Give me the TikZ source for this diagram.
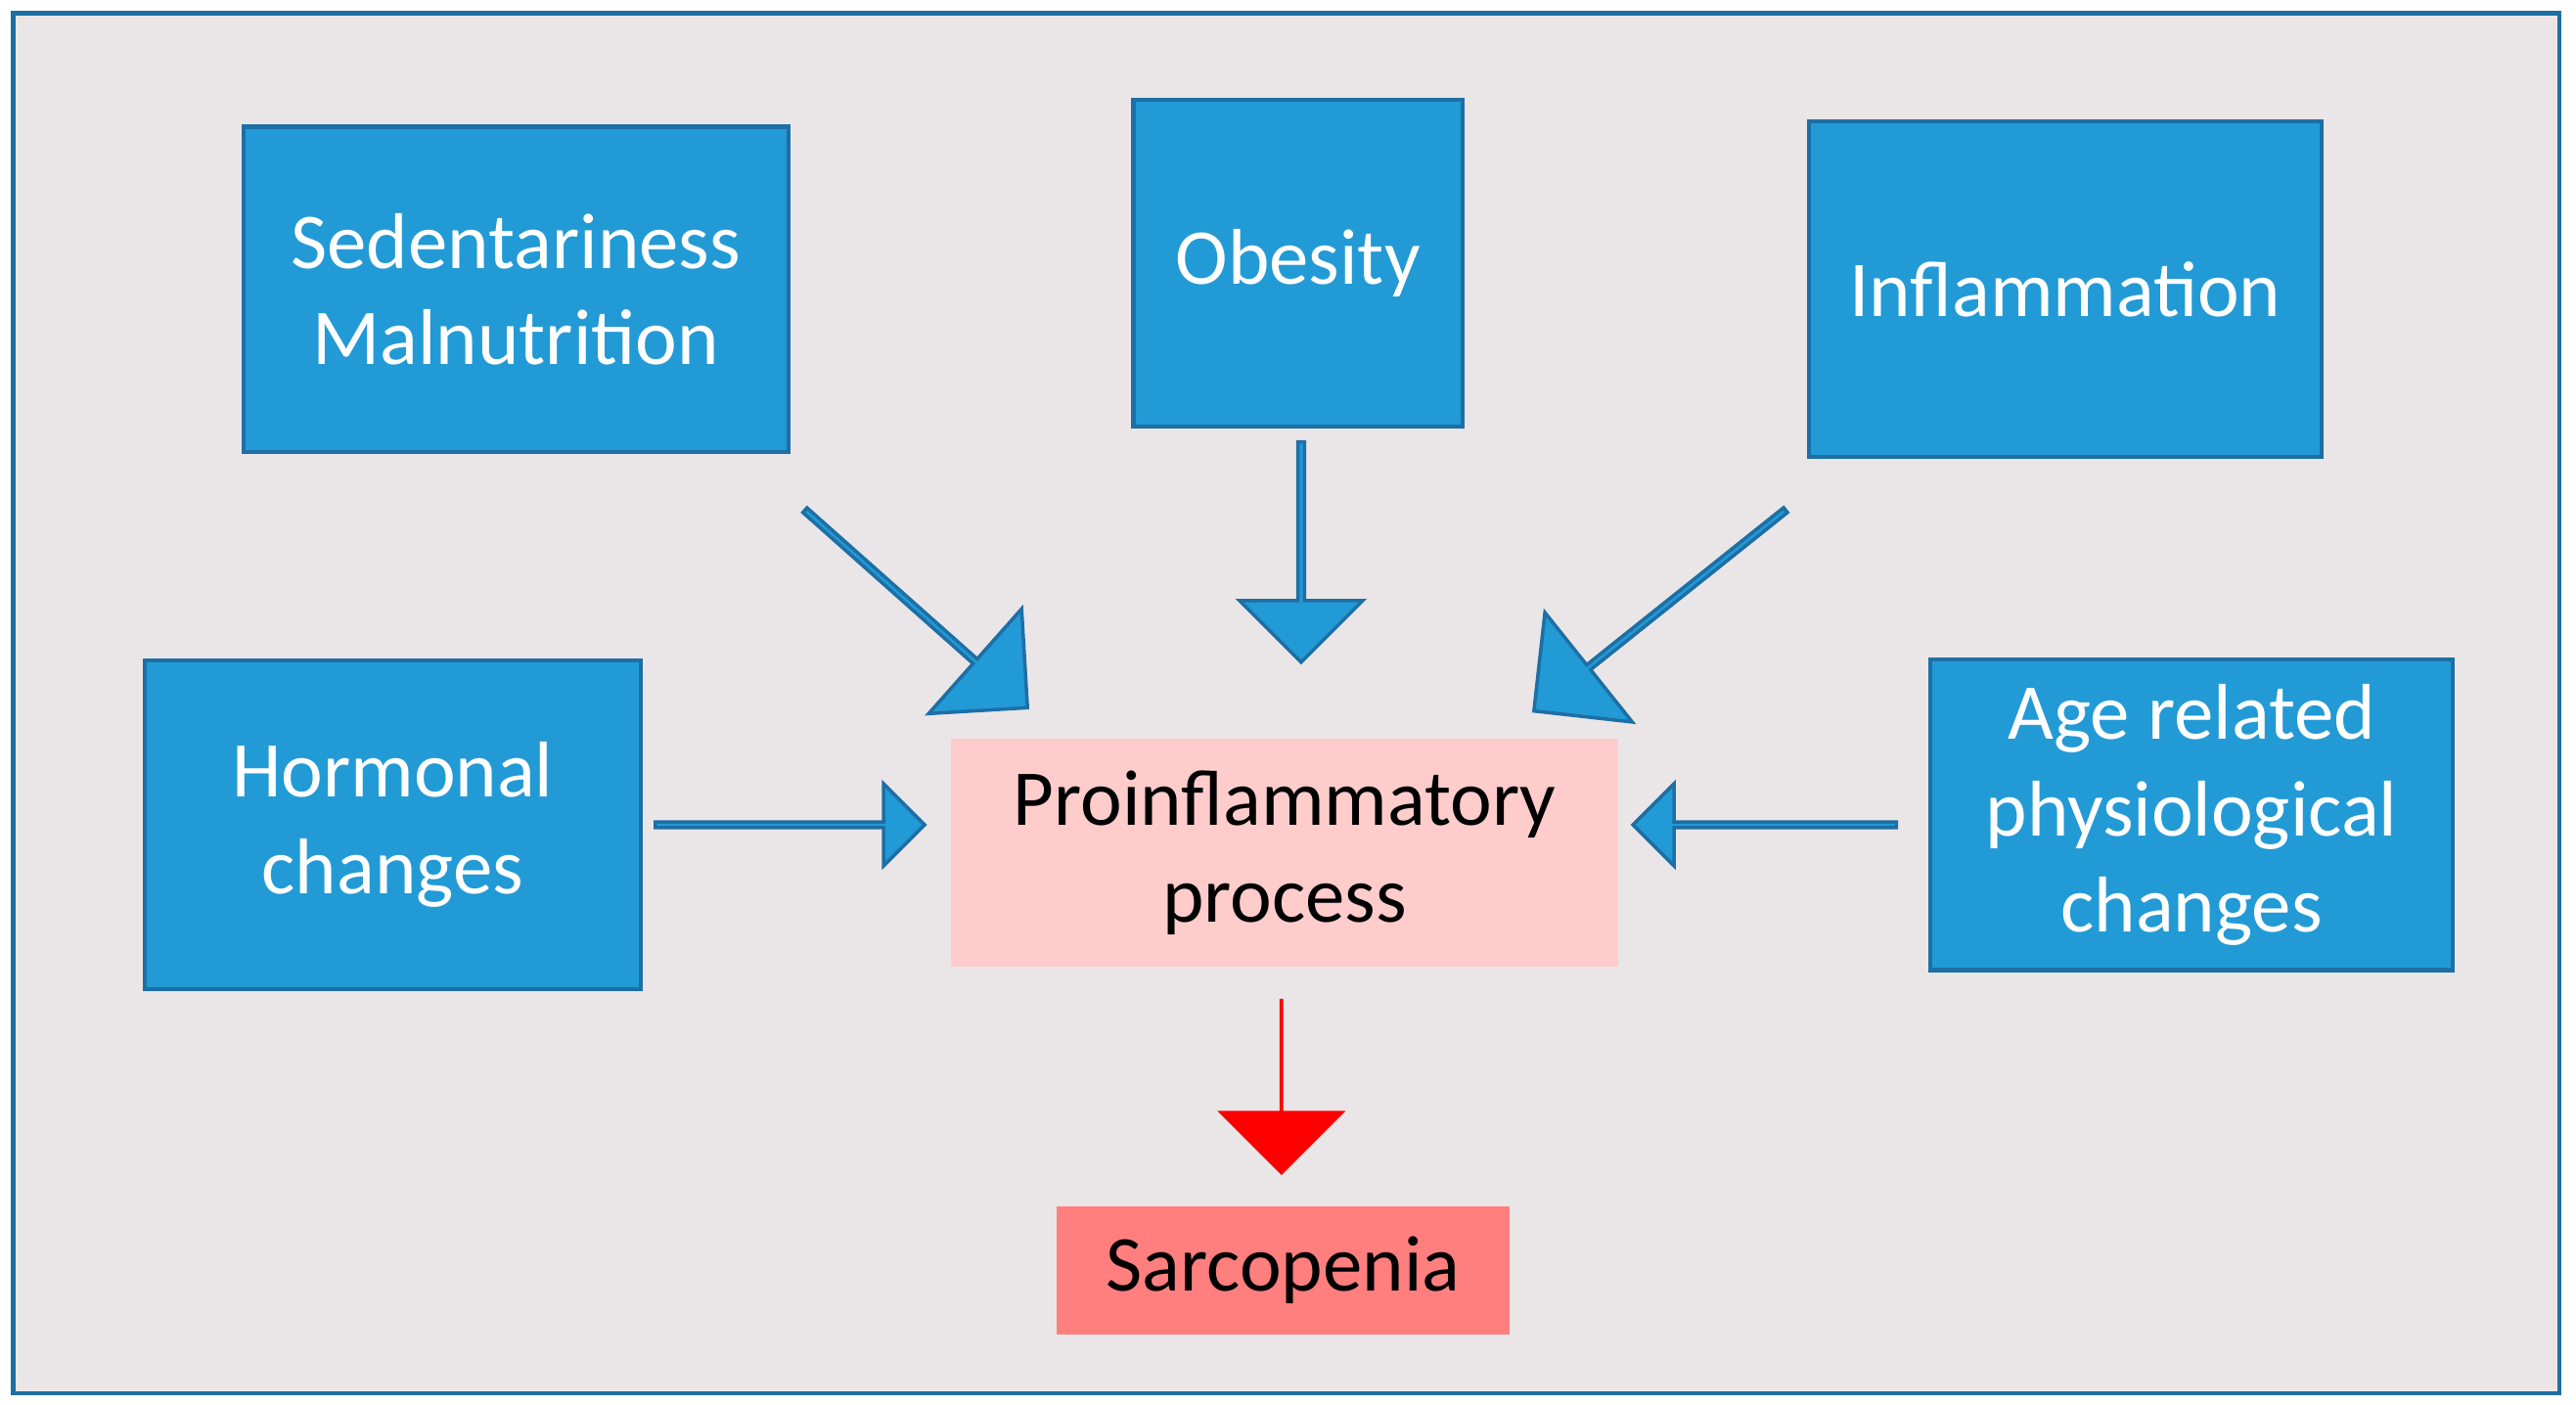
\documentclass[tikz,border=0pt]{standalone}
\usepackage{fontspec}
\setmainfont{Carlito}
\usetikzlibrary{shapes.arrows}
\definecolor{boxblue}{HTML}{229AD6}
\definecolor{edgeblue}{HTML}{1D6FA5}
\definecolor{backgray}{HTML}{EAE6E7}
\definecolor{pinkbox}{HTML}{FFCCCC}
\definecolor{sarcred}{HTML}{FF7F7F}

\begin{document}
\begin{tikzpicture}[x=0.01679cm,y=-0.01679cm]
    \tikzstyle{cause}=[rectangle,draw=edgeblue,line width=1.2pt,fill=boxblue,text=white,align=center,font=\fontsize{23}{28}\selectfont]
    \tikzstyle{result}=[rectangle,align=center,font=\fontsize{23}{28}\selectfont]
    \tikzstyle{bigarrow}=[single arrow,draw=edgeblue,line width=1pt,fill=boxblue,inner sep=0pt,single arrow tip angle=90]
    % frame
    \useasboundingbox (0,0) rectangle (1568,855);
    \draw [draw=edgeblue,line width=1.2pt,fill=backgray] (8,8) rectangle (1558,848);
    % causes
    \node (sed) at (314,176) [cause,minimum width=5.57cm,minimum height=3.32cm] {Sedentariness\\Malnutrition};
    \node (obe) at (790,160) [cause,minimum width=3.36cm,minimum height=3.34cm] {Obesity};
    \node (inf) at (1257,176) [cause,minimum width=5.24cm,minimum height=3.43cm] {Inflammation};
    \node (hor) at (239,502) [cause,minimum width=5.07cm,minimum height=3.36cm] {Hormonal\\changes};
    \node (age) at (1334,496) [cause,minimum width=5.34cm,minimum height=3.17cm] {Age related\\physiological\\changes};
    % centre and outcome
    \node (pro) at (782,519) [result,fill=pinkbox,minimum width=6.82cm,minimum height=2.33cm] {Proinflammatory\\process};
    \node (sarc) at (781,773) [result,fill=sarcred,minimum width=4.62cm,minimum height=1.31cm] {Sarcopenia};
    % block arrows
    \node (sedarrow) at (557,370) [bigarrow,rotate=-41.6,minimum height=3.04cm,minimum width=1.43cm,single arrow head extend=0.38cm] {};
    \node (obearrow) at (792,335) [bigarrow,rotate=-90,minimum height=2.25cm,minimum width=1.26cm,single arrow head extend=0.31cm] {};
    \node (infarrow) at (1011,371) [bigarrow,rotate=218.6,minimum height=3.29cm,minimum width=1.43cm,single arrow head extend=0.38cm] {};
    \node (horarrow) at (480,502) [bigarrow,minimum height=2.75cm,minimum width=0.84cm,single arrow head extend=0.235cm] {};
    \node (agearrow) at (1075,502) [bigarrow,rotate=180,minimum height=2.69cm,minimum width=0.84cm,single arrow head extend=0.235cm] {};
    \node (sarcarrow) at (780,661) [single arrow,fill=red,inner sep=0pt,single arrow tip angle=90,rotate=-90,minimum height=1.8cm,minimum width=1.31cm,single arrow head extend=0.235cm] {};
\end{tikzpicture}
\end{document}
